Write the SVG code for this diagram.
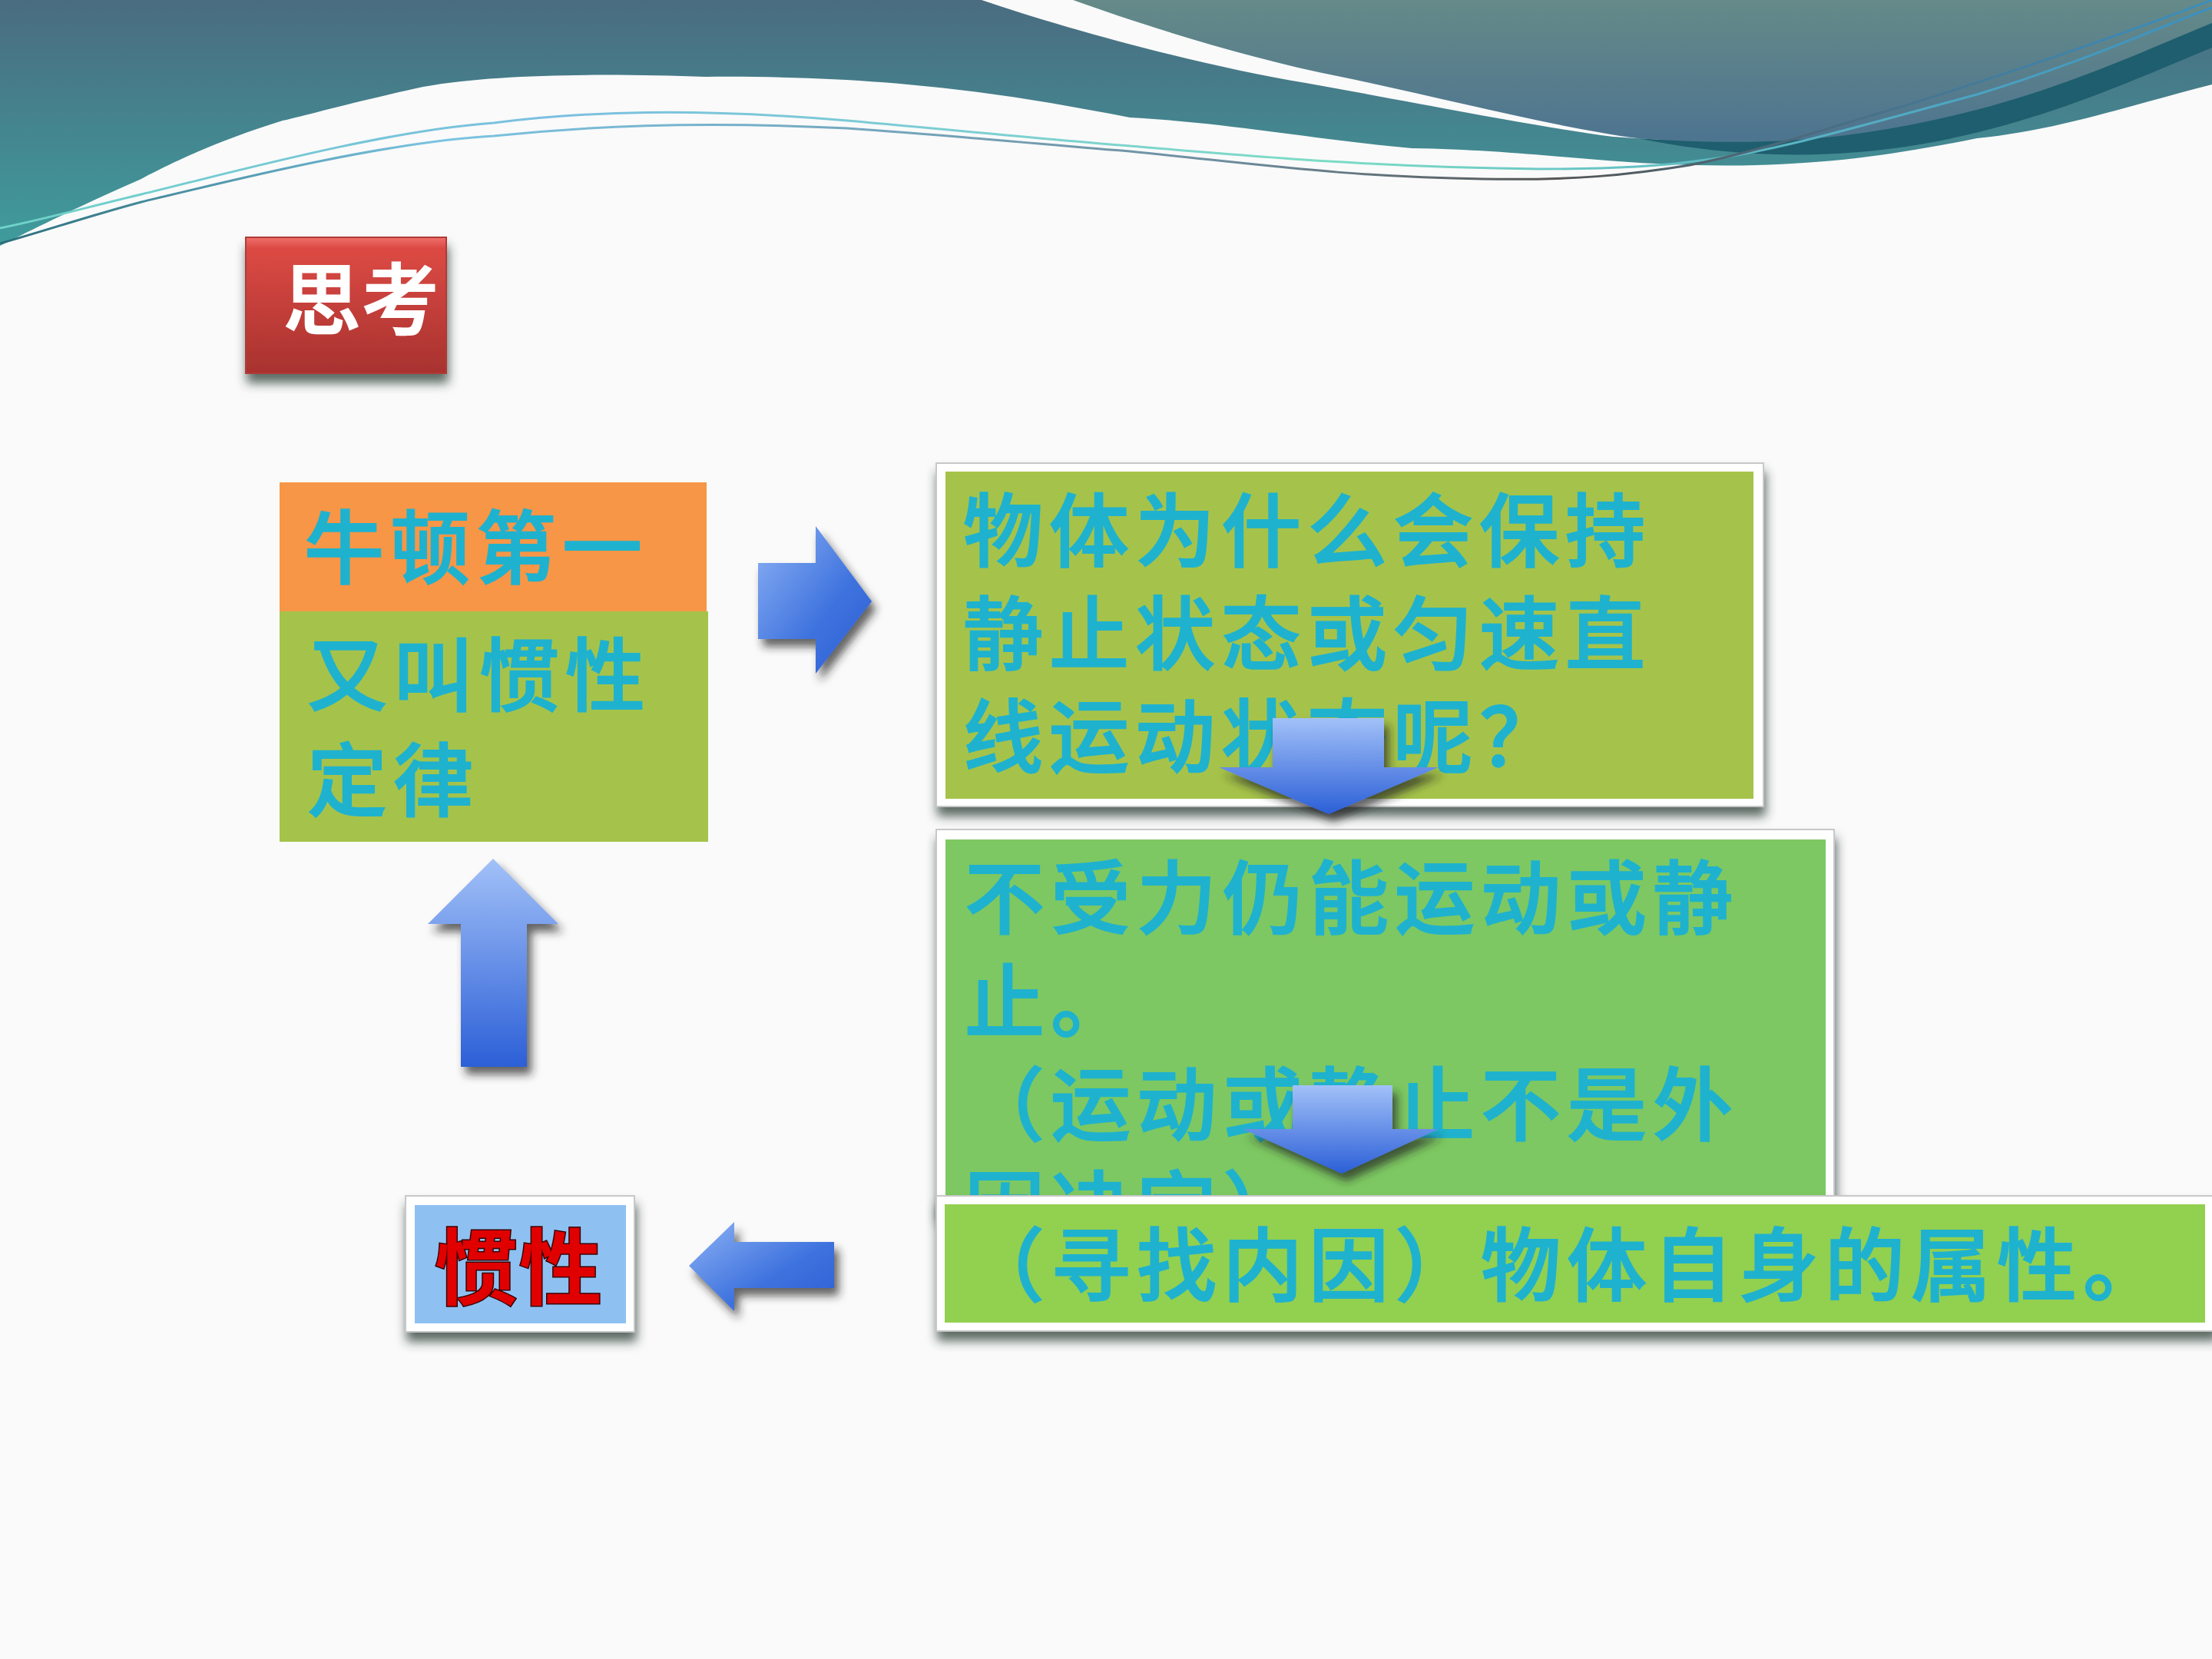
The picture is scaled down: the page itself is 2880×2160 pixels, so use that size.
<svg xmlns="http://www.w3.org/2000/svg" width="2880" height="2160" viewBox="0 0 2880 2160">
<defs>
<linearGradient id="teal" x1="0" y1="0" x2="0" y2="1">
<stop offset="0" stop-color="#4A6C80"/>
<stop offset="1" stop-color="#3F9C9C"/>
</linearGradient>
<linearGradient id="gray" x1="0" y1="0" x2="0" y2="1">
<stop offset="0" stop-color="#658A88"/>
<stop offset="1" stop-color="#4D7490"/>
</linearGradient>
<linearGradient id="lineA" x1="0" y1="0" x2="1" y2="0">
<stop offset="0" stop-color="#6FD3C8"/>
<stop offset="0.25" stop-color="#7BBFE0"/>
<stop offset="0.6" stop-color="#7DDCC6"/>
<stop offset="1" stop-color="#3A8FC0"/>
</linearGradient>
<linearGradient id="lineB" x1="0" y1="0" x2="1" y2="0">
<stop offset="0" stop-color="#2A6E7A"/>
<stop offset="0.2" stop-color="#7BC4E2"/>
<stop offset="0.55" stop-color="#6F8FA0"/>
<stop offset="0.7" stop-color="#555"/>
<stop offset="1" stop-color="#3A8FC0"/>
</linearGradient>
<linearGradient id="arrow" x1="0" y1="0" x2="0" y2="1">
<stop offset="0" stop-color="#A2C1F8"/>
<stop offset="1" stop-color="#2C5FD7"/>
</linearGradient>
<linearGradient id="arrowH" x1="0" y1="0" x2="1" y2="1">
<stop offset="0" stop-color="#8DB2F4"/>
<stop offset="0.6" stop-color="#3E72DE"/>
<stop offset="1" stop-color="#2D5FD4"/>
</linearGradient>
<linearGradient id="red" x1="0" y1="0" x2="0" y2="1">
<stop offset="0" stop-color="#F0706C"/>
<stop offset="0.08" stop-color="#DC4A44"/>
<stop offset="1" stop-color="#A8322F"/>
</linearGradient>
<filter id="shadow" x="-10%" y="-10%" width="125%" height="135%">
<feDropShadow dx="2" dy="12" stdDeviation="7" flood-color="#2A3A33" flood-opacity="0.75"/>
</filter>
<filter id="ashadow" x="-20%" y="-20%" width="150%" height="150%">
<feDropShadow dx="6" dy="10" stdDeviation="6" flood-color="#222" flood-opacity="0.7"/>
</filter>
<style>
.t{font-family:"Noto Sans CJK SC","Noto Sans CJK JP",sans-serif;fill:#1FB2CF;stroke:#1FB2CF;stroke-width:2;font-size:104px;letter-spacing:8px;font-weight:500}
.frame{fill:#FFFFFF;stroke:#C8C8C8;stroke-width:2}
.arr{fill:url(#arrow);filter:url(#ashadow)}
</style>
</defs>
<rect x="0" y="0" width="2880" height="2160" fill="#FAFAFA"/>
<!-- header waves -->
<path d="M0,0 L2880,0 L2880,110 C2780,135 2680,170 2574,180 C2450,205 2350,218 2206,215 C2080,212 1980,195 1838,193 C1700,180 1600,160 1471,153 C1300,120 1150,98 919,100 C800,96 650,95 551,113 C450,135 400,150 368,157 C260,190 184,233 184,233 C110,265 40,300 0,320 Z" fill="url(#teal)"/>
<path d="M1278,0 C1380,35 1560,85 1700,108 C1850,135 2000,165 2100,178 L2160,182 L2400,0 Z" fill="#FAFAFA"/>
<path d="M1397,0 L2880,0 L2880,30 C2760,80 2650,130 2500,160 C2400,180 2300,192 2132,180 C2020,165 1880,128 1746,100 C1620,75 1480,30 1397,0 Z" fill="url(#gray)"/>
<path d="M2132,180 C2300,192 2400,180 2500,160 C2650,130 2760,80 2880,30 L2880,62 C2760,112 2650,162 2500,188 C2380,208 2260,206 2132,180 Z" fill="#1E5E6E"/>
<path d="M0,297 C60,285 120,268 184,253 C300,225 500,170 643,160 C760,145 900,140 1103,157 C1250,170 1400,185 1471,190 C1650,205 1800,218 2004,220 C2100,220 2170,215 2206,210 C2300,200 2400,170 2574,123 C2700,85 2800,40 2880,10" fill="none" stroke="url(#lineA)" stroke-width="3"/>
<path d="M0,317 C60,300 120,280 184,263 C300,235 500,185 643,177 C760,165 900,157 1103,167 C1250,177 1400,192 1471,197 C1650,215 1750,230 1930,233 C2050,235 2120,228 2200,215 C2300,195 2400,160 2482,137 C2600,100 2750,50 2880,0" fill="none" stroke="url(#lineB)" stroke-width="3"/>

<g id="node-sikao" filter="url(#shadow)">
<rect x="320" y="309" width="261" height="177" fill="url(#red)" stroke="#B03A36" stroke-width="2"/>
<text x="368" y="428" font-family="Noto Sans CJK SC, sans-serif" font-size="102" font-weight="bold" fill="#FFFFFF">思考</text>
</g>

<g id="node-newton">
<rect x="364" y="628" width="556" height="170" fill="#F79646"/>
<text class="t" x="396" y="752" letter-spacing="10">牛顿第一</text>
</g>
<g id="node-inertia-law">
<rect x="364" y="796" width="558" height="300" fill="#A5C34A"/>
<text class="t" x="400" y="918" letter-spacing="10">又叫惯性</text>
<text class="t" x="400" y="1055" letter-spacing="10">定律</text>
</g>

<g id="node-question">
<rect class="frame" x="1219" y="603" width="1077" height="447" filter="url(#shadow)"/>
<rect x="1231" y="614" width="1052" height="426" fill="#A5C34A"/>
<text class="t" x="1254" y="730">物体为什么会保持</text>
<text class="t" x="1254" y="864">静止状态或匀速直</text>
<text class="t" x="1254" y="998">线运动状态呢？</text>
</g>

<g id="node-nolforce">
<rect class="frame" x="1219" y="1080" width="1169" height="500" filter="url(#shadow)"/>
<rect x="1231" y="1093" width="1146" height="480" fill="#7DC862"/>
<text class="t" x="1256" y="1208">不受力仍能运动或静</text>
<text class="t" x="1256" y="1343">止。</text>
<text class="t" x="1256" y="1477">（运动或静止不是外</text>
<text class="t" x="1256" y="1612">因决定）</text>
</g>

<g id="node-property">
<rect class="frame" x="1219" y="1557" width="1666" height="176" filter="url(#shadow)"/>
<rect x="1230" y="1568" width="1641" height="154" fill="#92D050"/>
<text class="t" x="1256" y="1686" letter-spacing="9">（寻找内因）物体自身的属性。</text>
</g>

<g id="node-guanxing">
<rect class="frame" x="528" y="1557" width="298" height="177" filter="url(#shadow)"/>
<rect x="540" y="1569" width="275" height="154" fill="#8EC1F2"/>
<text x="566" y="1690" font-family="Noto Sans CJK SC, sans-serif" font-size="108" font-weight="bold" fill="#E00000" stroke="#3A0000" stroke-width="3" paint-order="stroke" letter-spacing="2">惯性</text>
</g>

<g id="connectors">
<path class="arr" style="fill:url(#arrowH)" d="M987,733 L1062,733 L1062,685 L1135,783 L1062,877 L1062,832 L987,832 Z"/>
<path class="arr" d="M1657,935 L1802,935 L1802,999 L1873,999 L1730,1060 L1587,999 L1657,999 Z"/>
<path class="arr" d="M1683,1413 L1813,1413 L1813,1470 L1873,1470 L1747,1528 L1618,1470 L1683,1470 Z"/>
<path class="arr" d="M642,1118 L727,1203 L686,1203 L686,1389 L600,1389 L600,1203 L557,1203 Z"/>
<path class="arr" style="fill:url(#arrowH)" d="M897,1648 L956,1591 L956,1617 L1086,1617 L1086,1677 L956,1677 L956,1707 Z"/>
</g>
</svg>
